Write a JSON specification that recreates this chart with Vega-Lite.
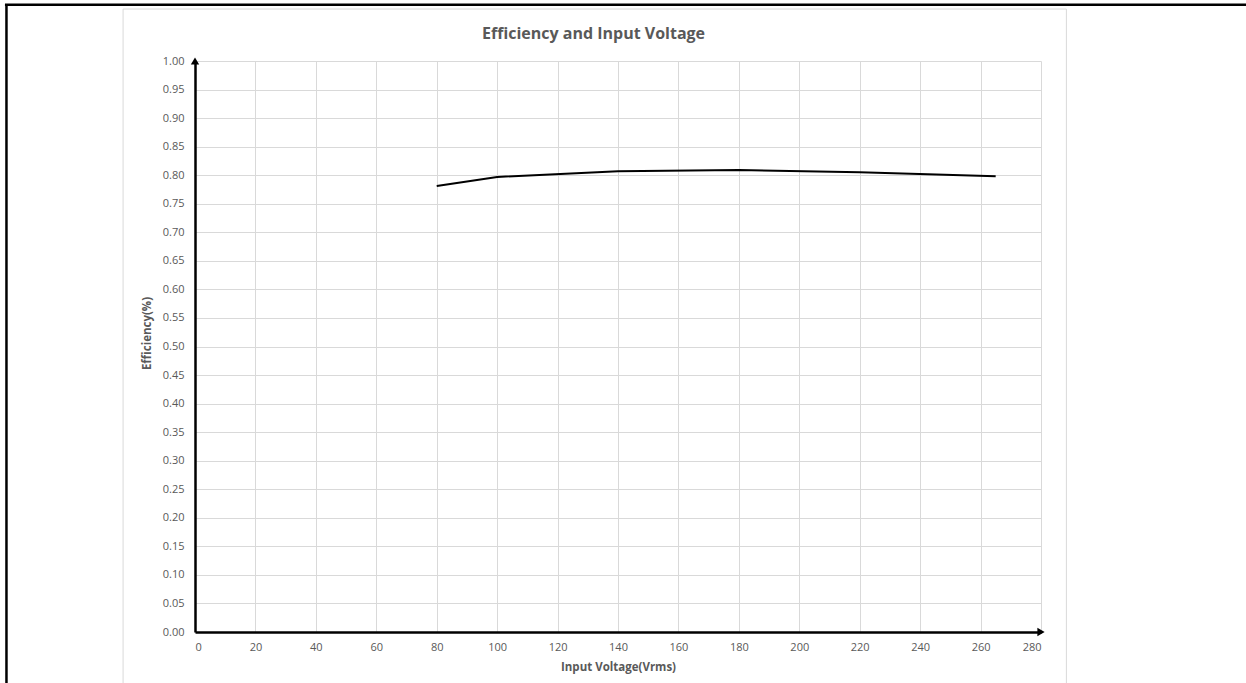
{
  "$schema": "https://vega.github.io/schema/vega-lite/v6.json",
  "width": 846,
  "height": 571,
  "autosize": {"type": "none"},
  "padding": {"left": 195, "top": 61, "right": 205, "bottom": 51},
  "background": "white",
  "config": {
    "view": {"stroke": null},
    "axis": {
      "grid": true,
      "labelFont": "Open Sans",
      "labelFontSize": 11,
      "labelColor": "#595959",
      "labelOverlap": false,
      "titleFont": "Open Sans",
      "titleFontSize": 11.5,
      "titleFontWeight": "bold",
      "titleColor": "#595959",
      "gridColor": "#d9d9d9",
      "gridWidth": 1,
      "ticks": false,
      "domainColor": "#000000",
      "domainWidth": 2.5
    }
  },
  "datasets": {
    "eff": [
      {"voltage": 80, "efficiency": 0.781},
      {"voltage": 100, "efficiency": 0.797},
      {"voltage": 140, "efficiency": 0.807},
      {"voltage": 180, "efficiency": 0.809},
      {"voltage": 220, "efficiency": 0.805},
      {"voltage": 265, "efficiency": 0.798}
    ]
  },
  "layer": [
    {
      "data": {"name": "eff"},
      "mark": {"type": "line", "color": "#000000", "strokeWidth": 2},
      "encoding": {
        "x": {
          "field": "voltage",
          "type": "quantitative",
          "title": "Input Voltage(Vrms)",
          "scale": {"domain": [0, 280], "nice": false, "zero": false},
          "axis": {"grid": true, "values": [0,20,40,60,80,100,120,140,160,180,200,220,240,260,280], "labelPadding": 9, "titlePadding": 9}
        },
        "y": {
          "field": "efficiency",
          "type": "quantitative",
          "title": "Efficiency(%)",
          "scale": {"domain": [0, 1], "nice": false, "zero": false},
          "axis": {"grid": true, "values": [0,0.05,0.1,0.15,0.2,0.25,0.3,0.35,0.4,0.45,0.5,0.55,0.6,0.65,0.7,0.75,0.8,0.85,0.9,0.95,1], "format": ".2f", "labelPadding": 11, "titlePadding": 10, "titleY": 272}
        }
      }
    },
    {
      "data": {"values": [{}]},
      "mark": {"type": "rect", "fill": null, "stroke": "#d9d9d9", "strokeWidth": 1, "clip": false},
      "encoding": {
        "x": {"datum": -23.8, "type": "quantitative", "title": "Input Voltage(Vrms)", "axis": {"grid": true, "values": [0,20,40,60,80,100,120,140,160,180,200,220,240,260,280], "labelPadding": 9, "titlePadding": 9}},
        "x2": {"datum": 288.4},
        "y": {"datum": 1.091, "type": "quantitative", "title": "Efficiency(%)", "axis": {"grid": true, "values": [0,0.05,0.1,0.15,0.2,0.25,0.3,0.35,0.4,0.45,0.5,0.55,0.6,0.65,0.7,0.75,0.8,0.85,0.9,0.95,1], "format": ".2f", "labelPadding": 11, "titlePadding": 10, "titleY": 272}},
        "y2": {"datum": -0.12}
      }
    },
    {
      "data": {"values": [{}]},
      "mark": {"type": "rule", "color": "#000000", "strokeWidth": 2.5, "clip": false},
      "encoding": {
        "x": {"datum": -62.9, "type": "quantitative", "title": "Input Voltage(Vrms)", "axis": {"grid": true, "values": [0,20,40,60,80,100,120,140,160,180,200,220,240,260,280], "labelPadding": 9, "titlePadding": 9}},
        "x2": {"datum": 348},
        "y": {"datum": 1.0985, "type": "quantitative", "title": "Efficiency(%)", "axis": {"grid": true, "values": [0,0.05,0.1,0.15,0.2,0.25,0.3,0.35,0.4,0.45,0.5,0.55,0.6,0.65,0.7,0.75,0.8,0.85,0.9,0.95,1], "format": ".2f", "labelPadding": 11, "titlePadding": 10, "titleY": 272}}
      }
    },
    {
      "data": {"values": [{}]},
      "mark": {"type": "rule", "color": "#000000", "strokeWidth": 2.5, "clip": false},
      "encoding": {
        "x": {"datum": -62.4, "type": "quantitative", "title": "Input Voltage(Vrms)", "axis": {"grid": true, "values": [0,20,40,60,80,100,120,140,160,180,200,220,240,260,280], "labelPadding": 9, "titlePadding": 9}},
        "y": {"datum": 1.0985, "type": "quantitative", "title": "Efficiency(%)", "axis": {"grid": true, "values": [0,0.05,0.1,0.15,0.2,0.25,0.3,0.35,0.4,0.45,0.5,0.55,0.6,0.65,0.7,0.75,0.8,0.85,0.9,0.95,1], "format": ".2f", "labelPadding": 11, "titlePadding": 10, "titleY": 272}},
        "y2": {"datum": -0.12}
      }
    },
    {
      "data": {"values": [{}]},
      "mark": {"type": "text", "font": "Open Sans", "fontSize": 16, "fontWeight": "bold", "color": "#595959", "align": "center", "baseline": "alphabetic", "clip": false},
      "encoding": {
        "x": {"datum": 131.9, "type": "quantitative", "title": "Input Voltage(Vrms)", "axis": {"grid": true, "values": [0,20,40,60,80,100,120,140,160,180,200,220,240,260,280], "labelPadding": 9, "titlePadding": 9}},
        "y": {"datum": 1.0377, "type": "quantitative", "title": "Efficiency(%)", "axis": {"grid": true, "values": [0,0.05,0.1,0.15,0.2,0.25,0.3,0.35,0.4,0.45,0.5,0.55,0.6,0.65,0.7,0.75,0.8,0.85,0.9,0.95,1], "format": ".2f", "labelPadding": 11, "titlePadding": 10, "titleY": 272}},
        "text": {"value": "Efficiency and Input Voltage"}
      }
    },
    {
      "data": {"values": [{"voltage": 0, "efficiency": 1}]},
      "mark": {"type": "point", "shape": "triangle-up", "filled": true, "color": "#000000", "size": 70, "opacity": 1, "clip": false},
      "encoding": {
        "x": {"field": "voltage", "type": "quantitative", "title": "Input Voltage(Vrms)", "axis": {"grid": true, "values": [0,20,40,60,80,100,120,140,160,180,200,220,240,260,280], "labelPadding": 9, "titlePadding": 9}},
        "y": {"field": "efficiency", "type": "quantitative", "title": "Efficiency(%)", "axis": {"grid": true, "values": [0,0.05,0.1,0.15,0.2,0.25,0.3,0.35,0.4,0.45,0.5,0.55,0.6,0.65,0.7,0.75,0.8,0.85,0.9,0.95,1], "format": ".2f", "labelPadding": 11, "titlePadding": 10, "titleY": 272}}
      }
    },
    {
      "data": {"values": [{"voltage": 280, "efficiency": 0}]},
      "mark": {"type": "point", "shape": "triangle-right", "filled": true, "color": "#000000", "size": 70, "opacity": 1, "clip": false},
      "encoding": {
        "x": {"field": "voltage", "type": "quantitative", "title": "Input Voltage(Vrms)", "axis": {"grid": true, "values": [0,20,40,60,80,100,120,140,160,180,200,220,240,260,280], "labelPadding": 9, "titlePadding": 9}},
        "y": {"field": "efficiency", "type": "quantitative", "title": "Efficiency(%)", "axis": {"grid": true, "values": [0,0.05,0.1,0.15,0.2,0.25,0.3,0.35,0.4,0.45,0.5,0.55,0.6,0.65,0.7,0.75,0.8,0.85,0.9,0.95,1], "format": ".2f", "labelPadding": 11, "titlePadding": 10, "titleY": 272}}
      }
    }
  ]
}
